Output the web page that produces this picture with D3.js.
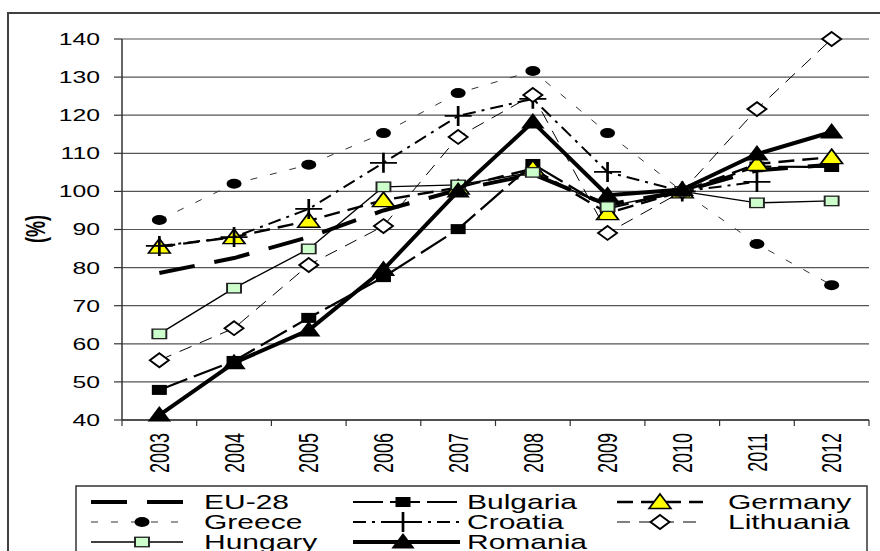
<!DOCTYPE html>
<html>
<head>
<meta charset="utf-8">
<script src="https://cdn.jsdelivr.net/npm/d3@7"></script>
<style>
  body { margin: 0; background: #fff; }
  svg { display: block; font-family: "Liberation Sans", Arial, sans-serif; }
</style>
</head>
<body>
<div id="chart"></div>
<script>
// values (index, 2010 = 100)
const years = ["2003", "2004", "2005", "2006", "2007", "2008", "2009", "2010", "2011", "2012"];
const yTicks = [40, 50, 60, 70, 80, 90, 100, 110, 120, 130, 140];

const eu28      = [78.6, 82.5, 88.0, 95.0, 100.4, 104.5, 96.5, 100, 105.5, 107.0];
const bulgaria  = [47.9, 55.5, 66.8, 77.5, 90.1, 107.2, 95.5, 100, 106.5, 106.4];
const germany   = [85.5, 88.0, 92.3, 97.7, 101.0, 106.0, 94.3, 100, 107.2, 109.0];
const greece    = [92.5, 102.0, 107.0, 115.3, 125.8, 131.6, 115.3, 100, 86.2, 75.4];
const croatia   = [85.7, 88.0, 95.4, 107.5, 119.8, 124.3, 105.1, 100, 102.5, null];
const lithuania = [55.7, 64.1, 80.7, 90.9, 114.3, 125.3, 89.1, 100, 121.6, 140.0];
const hungary   = [62.6, 74.6, 84.9, 101.2, 101.7, 105.0, 96.0, 100, 97.0, 97.5];
const romania   = [41.3, 55.0, 63.6, 79.5, 100.1, 118.2, 99.0, 100.5, 109.8, 115.6];

// the original picture is stretched sideways, so text and markers get this x scale
const SX = 1.5;

const series = [
  {name: "EU-28",     values: eu28,      width: 4,   dash: "36,20", marker: null},
  {name: "Bulgaria",  values: bulgaria,  width: 2.2, dash: "30,7",  marker: "square",  fill: "#000"},
  {name: "Germany",   values: germany,   width: 2.4, dash: "16,8",  marker: "triangle", fill: "#ffff00"},
  {name: "Greece",    values: greece,    width: 1,   dash: "7,13",  marker: "circle",  fill: "#000", color: "#333"},
  {name: "Croatia",   values: croatia,   width: 2,   dash: "13,6,3,6", marker: "plus"},
  {name: "Lithuania", values: lithuania, width: 1,   dash: "13,9",  marker: "diamond", fill: "#fff"},
  {name: "Hungary",   values: hungary,   width: 1.4, dash: null,    marker: "square",  fill: "#ccffcc", small: true},
  {name: "Romania",   values: romania,   width: 4,   dash: null,    marker: "bigtriangle", fill: "#000"}
];

const W = 880, H = 551;
const plot = {left: 122, right: 869, top: 39, bottom: 420};

const svg = d3.select("#chart").append("svg")
    .attr("width", W)
    .attr("height", H);

// outer frame of the chart (runs off the picture right and bottom)
svg.append("rect")
    .attr("x", 8).attr("y", 13)
    .attr("width", 900).attr("height", 600)
    .attr("fill", "none")
    .attr("stroke", "#404040")
    .attr("stroke-width", 2);

const x = d3.scaleBand().domain(years).range([plot.left, plot.right]);
const y = d3.scaleLinear().domain([40, 140]).range([plot.bottom, plot.top]);
const cx = d => x(d) + x.bandwidth() / 2;

// grid lines
svg.append("g")
    .selectAll("line")
    .data(yTicks)
    .enter().append("line")
        .attr("x1", plot.left)
        .attr("x2", plot.right)
        .attr("y1", d => y(d))
        .attr("y2", d => y(d))
        .attr("stroke", "#555")
        .attr("stroke-width", 1.2);

// y axis
const yAxis = svg.append("g");
yAxis.append("line")
    .attr("x1", plot.left).attr("x2", plot.left)
    .attr("y1", plot.top).attr("y2", plot.bottom)
    .attr("stroke", "#333").attr("stroke-width", 1.5);
yAxis.selectAll(".tick")
    .data(yTicks)
    .enter().append("line")
        .attr("x1", plot.left - 8).attr("x2", plot.left)
        .attr("y1", d => y(d)).attr("y2", d => y(d))
        .attr("stroke", "#333").attr("stroke-width", 1.2);
yAxis.selectAll("text")
    .data(yTicks)
    .enter().append("text")
        .attr("transform", d => `translate(100,${y(d)}) scale(${SX},1)`)
        .attr("dy", "0.36em")
        .attr("text-anchor", "end")
        .style("font-size", "16.5px")
        .text(d => d);

svg.append("text")
    .attr("transform", `translate(36,229) scale(${SX},1) rotate(-90)`)
    .attr("dy", "0.35em")
    .attr("text-anchor", "middle")
    .attr("font-weight", "bold")
    .style("font-size", "18px")
    .text("(%)");

// x axis
const xAxis = svg.append("g");
xAxis.append("line")
    .attr("x1", plot.left).attr("x2", plot.right)
    .attr("y1", plot.bottom).attr("y2", plot.bottom)
    .attr("stroke", "#333").attr("stroke-width", 1.5);
const bounds = years.map(d => x(d)).concat([plot.right]);
xAxis.selectAll(".tick")
    .data(bounds)
    .enter().append("line")
        .attr("x1", d => d).attr("x2", d => d)
        .attr("y1", plot.bottom).attr("y2", plot.bottom + 6)
        .attr("stroke", "#333").attr("stroke-width", 1.2);
xAxis.selectAll("text")
    .data(years)
    .enter().append("text")
        .attr("transform", d => `translate(${cx(d)},433) scale(${SX},1) rotate(-90)`)
        .attr("dy", "0.36em")
        .attr("text-anchor", "end")
        .style("font-size", "18px")
        .text(d => d);

// markers, drawn unstretched then scaled with SX
function drawMarker(g, s, px, py) {
    const m = g.append("g").attr("transform", `translate(${px},${py}) scale(${SX},1)`);
    if (s.marker === "circle") {
        m.append("circle").attr("r", 5).attr("fill", "#000");
    } else if (s.marker === "square") {
        const w = s.small ? 9.3 : 10, h = s.small ? 9.5 : 10;
        m.append("rect")
            .attr("x", -w / 2).attr("y", -h / 2)
            .attr("width", w).attr("height", h)
            .attr("fill", s.fill)
            .attr("stroke", s.small ? "#222" : "none")
            .attr("stroke-width", 1.3);
    } else if (s.marker === "triangle") {
        m.append("path")
            .attr("d", "M0,-8 L7.3,6.5 L-7.3,6.5 Z")
            .attr("fill", s.fill)
            .attr("stroke", "#000").attr("stroke-width", 1.3);
    } else if (s.marker === "bigtriangle") {
        m.append("path")
            .attr("d", "M0,-9 L7.8,6.5 L-7.8,6.5 Z")
            .attr("fill", "#000");
    } else if (s.marker === "diamond") {
        m.append("path")
            .attr("d", "M0,-7 L6.3,0 L0,7 L-6.3,0 Z")
            .attr("fill", "#fff")
            .attr("stroke", "#000").attr("stroke-width", 1.6);
    } else if (s.marker === "plus") {
        m.append("path")
            .attr("d", "M-9,0 L9,0 M0,-10 L0,10")
            .attr("stroke", "#000").attr("stroke-width", 1.8);
    }
}

const line = d3.line()
    .defined(d => d.v != null)
    .x(d => cx(d.year))
    .y(d => y(d.v));

series.forEach(s => {
    const pts = years.map((yr, i) => ({year: yr, v: s.values[i]}));
    const g = svg.append("g");
    g.append("path")
        .datum(pts)
        .attr("d", line)
        .attr("fill", "none")
        .attr("stroke", s.color || "#000")
        .attr("stroke-width", s.width)
        .attr("stroke-dasharray", s.dash)
        .attr("stroke-linejoin", "round");
    if (s.marker) {
        pts.filter(d => d.v != null).forEach(d => drawMarker(g, s, cx(d.year), y(d.v)));
    }
});

// legend
const legend = svg.append("g");
legend.append("rect")
    .attr("x", 76).attr("y", 486)
    .attr("width", 791).attr("height", 100)
    .attr("fill", "#fff")
    .attr("stroke", "#333").attr("stroke-width", 1.5);

const cols = [
    {x0: 91,  x1: 183, mx: 142, tx: 204},
    {x0: 353, x1: 460, mx: 403, tx: 467},
    {x0: 617, x1: 703, mx: 660, tx: 728}
];
const rowY = [502, 522, 542];

series.forEach((s, i) => {
    const c = cols[i % 3], ry = rowY[Math.floor(i / 3)];
    const item = legend.append("g");
    item.append("line")
        .attr("x1", c.x0).attr("x2", c.x1)
        .attr("y1", ry).attr("y2", ry)
        .attr("stroke", s.color || "#000")
        .attr("stroke-width", s.width)
        .attr("stroke-dasharray", s.dash);
    if (s.marker) drawMarker(item, s, c.mx, ry);
    item.append("text")
        .attr("transform", `translate(${c.tx},${ry}) scale(${SX},1)`)
        .attr("dy", "0.36em")
        .style("font-size", "20px")
        .text(s.name);
});
</script>
</body>
</html>
